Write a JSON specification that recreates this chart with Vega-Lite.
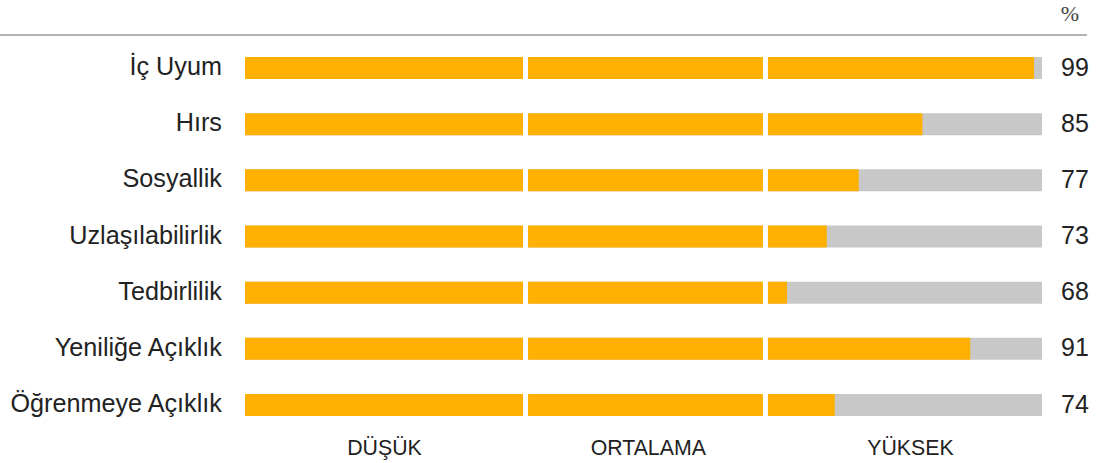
{
  "$schema": "https://vega.github.io/schema/vega-lite/v6.json",
  "width": 1102,
  "height": 463,
  "autosize": "none",
  "padding": 0,
  "config": {"view": {"stroke": null}, "font": "Liberation Sans"},
  "datasets": {
    "rows": [
      {"name": "İç Uyum", "value": 99, "order": 1},
      {"name": "Hırs", "value": 85, "order": 2},
      {"name": "Sosyallik", "value": 77, "order": 3},
      {"name": "Uzlaşılabilirlik", "value": 73, "order": 4},
      {"name": "Tedbirlilik", "value": 68, "order": 5},
      {"name": "Yeniliğe Açıklık", "value": 91, "order": 6},
      {"name": "Öğrenmeye Açıklık", "value": 74, "order": 7}
    ],
    "levels": [
      {"level": "DÜŞÜK", "pos": 17.5},
      {"level": "ORTALAMA", "pos": 50.6},
      {"level": "YÜKSEK", "pos": 83.5}
    ],
    "cuts": [{"at": 35.2}, {"at": 65.3}]
  },
  "layer": [
    {
      "data": {"name": "rows"},
      "mark": {"type": "bar", "orient": "horizontal", "color": "#c8c8c8", "size": 22},
      "encoding": {
        "y": {"field": "order", "type": "quantitative", "scale": {"domain": [-0.2106, 8.032], "reverse": true, "nice": false, "zero": false, "padding": 0}, "axis": null},
        "x": {"datum": 100, "type": "quantitative", "scale": {"domain": [-30.74, 107.53], "nice": false, "zero": false, "padding": 0}, "axis": null}
      }
    },
    {
      "data": {"name": "rows"},
      "mark": {"type": "bar", "orient": "horizontal", "color": "#ffb000", "size": 22},
      "encoding": {
        "y": {"field": "order", "type": "quantitative"},
        "x": {"field": "value", "type": "quantitative"}
      }
    },
    {
      "data": {"name": "cuts"},
      "mark": {"type": "rule", "color": "#ffffff", "strokeWidth": 5},
      "encoding": {
        "x": {"field": "at", "type": "quantitative"}
      }
    },
    {
      "data": {"name": "rows"},
      "mark": {"type": "text", "align": "right", "baseline": "alphabetic", "dy": 7, "fontSize": 25.2, "color": "#222222"},
      "encoding": {
        "y": {"field": "order", "type": "quantitative"},
        "x": {"datum": -2.9, "type": "quantitative"},
        "text": {"field": "name"}
      }
    },
    {
      "data": {"name": "rows"},
      "mark": {"type": "text", "align": "left", "baseline": "alphabetic", "dy": 7.5, "fontSize": 25, "color": "#222222"},
      "encoding": {
        "y": {"field": "order", "type": "quantitative"},
        "x": {"datum": 102.4, "type": "quantitative"},
        "text": {"field": "value"}
      }
    },
    {
      "data": {"name": "levels"},
      "mark": {"type": "text", "align": "center", "baseline": "alphabetic", "fontSize": 21.3, "color": "#222222"},
      "encoding": {
        "y": {"datum": 7.89, "type": "quantitative"},
        "x": {"field": "pos", "type": "quantitative"},
        "text": {"field": "level"}
      }
    },
    {
      "data": {"values": [{"from": -30.74, "to": 105.65}]},
      "mark": {"type": "rule", "color": "#b3b3b3", "strokeWidth": 2},
      "encoding": {
        "y": {"datum": 0.4125, "type": "quantitative"},
        "x": {"field": "from", "type": "quantitative"},
        "x2": {"field": "to"}
      }
    },
    {
      "data": {"values": [{"unit": "%"}]},
      "mark": {"type": "text", "align": "center", "baseline": "alphabetic", "fontSize": 22, "font": "Liberation Sans Narrow", "color": "#444444"},
      "encoding": {
        "y": {"datum": 0.172, "type": "quantitative"},
        "x": {"datum": 103.5, "type": "quantitative"},
        "text": {"field": "unit"}
      }
    }
  ]
}
